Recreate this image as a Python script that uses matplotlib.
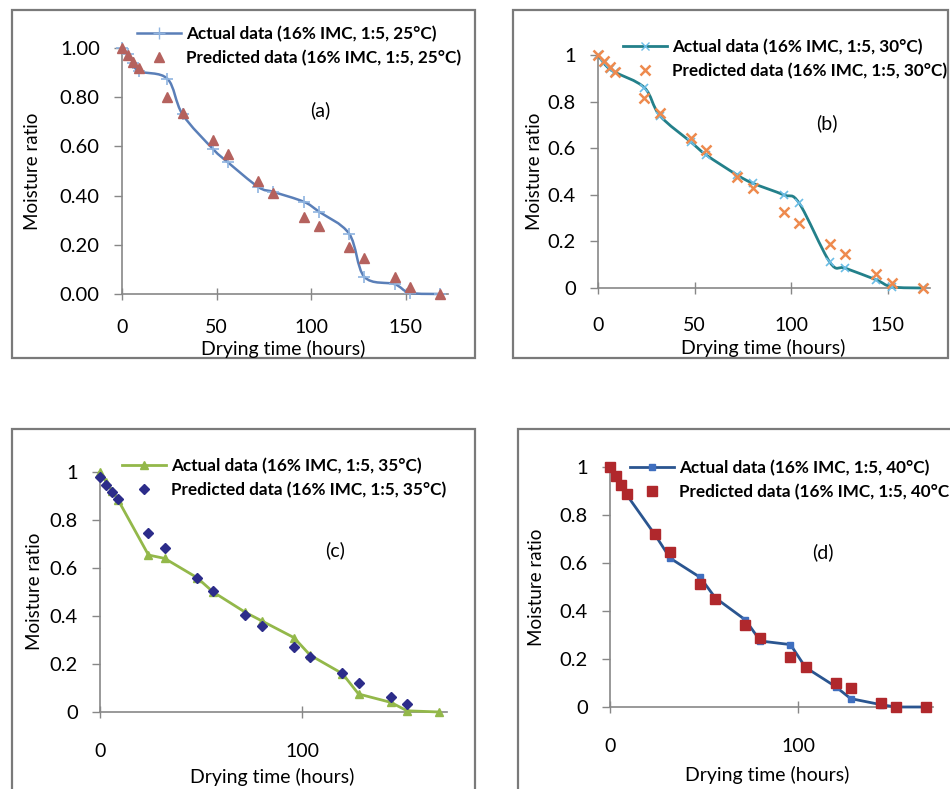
import numpy as np
import matplotlib
matplotlib.use("Agg")
import matplotlib.pyplot as plt
from matplotlib.path import Path
from matplotlib.patches import PathPatch, Rectangle
from matplotlib.lines import Line2D

plt.rcParams['font.family'] = ['Lato', 'DejaVu Sans']

# Drying time (hours)
hours = [0, 3, 6, 9, 24, 32, 48, 56, 72, 80, 96, 104, 120, 128, 144, 152, 168]

# Moisture ratio per drying temperature
actual_25 = [1.00, 0.975, 0.94, 0.905, 0.875, 0.73, 0.59, 0.535, 0.435, 0.415, 0.375, 0.335, 0.245, 0.07, 0.04, 0.005, 0.0]
pred_25 = [1.00, 0.97, 0.945, 0.92, 0.80, 0.735, 0.625, 0.568, 0.46, 0.41, 0.315, 0.275, 0.19, 0.145, 0.068, 0.03, 0.0]

actual_30 = [1.00, 0.965, 0.94, 0.925, 0.86, 0.74, 0.627, 0.571, 0.485, 0.45, 0.40, 0.365, 0.11, 0.085, 0.035, 0.005, 0.0]
pred_30 = [1.00, 0.975, 0.95, 0.925, 0.815, 0.75, 0.643, 0.592, 0.477, 0.43, 0.327, 0.28, 0.19, 0.145, 0.06, 0.02, 0.0]

actual_35 = [1.00, 0.96, 0.92, 0.883, 0.654, 0.64, 0.56, 0.50, 0.415, 0.38, 0.31, 0.237, 0.16, 0.075, 0.04, 0.005, 0.0]
pred_35 = [0.98, 0.946, 0.917, 0.888, 0.745, 0.683, 0.558, 0.505, 0.404, 0.358, 0.27, 0.23, 0.162, 0.12, 0.062, 0.033, np.nan]

actual_40 = [1.00, 0.96, 0.92, 0.883, 0.717, 0.62, 0.54, 0.455, 0.363, 0.275, 0.26, 0.165, 0.085, 0.035, 0.01, 0.0, 0.0]
pred_40 = [1.00, 0.963, 0.925, 0.887, 0.72, 0.645, 0.513, 0.45, 0.34, 0.288, 0.21, 0.167, 0.10, 0.08, 0.017, 0.0, 0.0]

W, H = 950, 789
fig = plt.figure(figsize=(W / 100, H / 100), dpi=100)
fig.patch.set_facecolor('white')

GRAY = '#878787'


def fx(px):
    return px / W


def fy(py):
    return 1 - py / H


def smooth_path(x, y):
    """Cubic Bezier path through the points (Catmull-Rom style smoothing)."""
    x = np.asarray(x, float)
    y = np.asarray(y, float)
    verts = [(x[0], y[0])]
    codes = [Path.MOVETO]
    n = len(x)
    for i in range(n - 1):
        p0 = np.array([x[max(i - 1, 0)], y[max(i - 1, 0)]])
        p1 = np.array([x[i], y[i]])
        p2 = np.array([x[i + 1], y[i + 1]])
        p3 = np.array([x[min(i + 2, n - 1)], y[min(i + 2, n - 1)]])
        c1 = p1 + (p2 - p0) / 6.0
        c2 = p2 - (p3 - p1) / 6.0
        verts += [tuple(c1), tuple(c2), tuple(p2)]
        codes += [Path.CURVE4] * 3
    return Path(verts, codes)


def make_axes(x0, pxh, y0, y1, xpad, xmax=172):
    ax = fig.add_axes([fx(x0), fy(y0), pxh * xmax / W, (y0 - y1) / H])
    ax.set_xlim(0, xmax)
    ax.set_ylim(0, 1.0)
    for s in ('top', 'right'):
        ax.spines[s].set_visible(False)
    for s in ('left', 'bottom'):
        ax.spines[s].set_color(GRAY)
        ax.spines[s].set_linewidth(1.2)
    ax.tick_params(axis='y', direction='out', length=6, width=1.0, color=GRAY,
                   labelsize=14.5, pad=10)
    ax.tick_params(axis='x', direction='inout', length=8, width=1.0, color=GRAY,
                   labelsize=14, pad=xpad)
    ax.set_yticks(np.arange(0, 1.01, 0.2))
    ax.patch.set_alpha(0)
    return ax


def frame(x0, y0, x1, y1):
    fig.patches.append(Rectangle((fx(x0), fy(y1)), (x1 - x0) / W, (y1 - y0) / H,
                                 transform=fig.transFigure, fill=False,
                                 edgecolor='#7a7a7a', linewidth=1.6, zorder=0))


def labels(tag, xlab_pos, ylab_pos, tag_pos):
    fig.text(fx(xlab_pos[0]), fy(xlab_pos[1]), 'Drying time (hours)', fontsize=14,
             ha='center', va='center')
    fig.text(fx(ylab_pos[0]), fy(ylab_pos[1]), 'Moisture ratio', fontsize=13.5,
             rotation=90, ha='center', va='center')
    fig.text(fx(tag_pos[0]), fy(tag_pos[1]), tag, fontsize=14, ha='center', va='center')


def add_legend(ax, handles, texts, x_left, y_mid):
    ax.legend(handles, texts, loc='center left',
              bbox_to_anchor=(fx(x_left), fy(y_mid)), bbox_transform=fig.transFigure,
              frameon=False, borderpad=0, borderaxespad=0, handlelength=2.6,
              handletextpad=0.25, labelspacing=0.45,
              prop={'weight': 'bold', 'size': 12.3})


# Outer frames
frame(12, 10, 475, 358)
frame(513, 10, 948, 358)
frame(12, 429, 475, 800)
frame(518, 429, 960, 800)

# ---- (a) 25 C
ax = make_axes(122, 1.893, 294, 48, 14)
ax.set_xticks([0, 50, 100, 150])
ax.yaxis.set_major_formatter(matplotlib.ticker.FormatStrFormatter('%.2f'))
c_line, c_mark, c_pred = '#5a7fb8', '#8fb4e0', '#b5625e'
ax.add_patch(PathPatch(smooth_path(hours, actual_25), fill=False, edgecolor=c_line,
                       linewidth=1.8, zorder=3, clip_on=False))
ax.plot(hours, actual_25, linestyle='none', marker='+', ms=8, mew=1.2, color=c_mark,
        zorder=4, clip_on=False)
ax.plot(hours, pred_25, linestyle='none', marker='^', ms=7, color=c_pred, zorder=5,
        clip_on=False)
add_legend(ax,
           [Line2D([], [], color=c_line, lw=1.8, marker='+', ms=8, mec=c_mark),
            Line2D([], [], ls='none', marker='^', ms=7, color=c_pred)],
           ['Actual data (16% IMC, 1:5, 25°C)', 'Predicted data (16% IMC, 1:5, 25°C)'],
           137, 46)
labels('(a)', (283, 349), (33, 171), (320, 110))

# ---- (b) 30 C
ax = make_axes(598, 1.933, 288, 55, 17)
ax.set_xticks([0, 50, 100, 150])
ax.set_yticklabels(['0', '0.2', '0.4', '0.6', '0.8', '1'])
c_line, c_mark, c_pred = '#23808a', '#6cbde6', '#ee8a4e'
ax.add_patch(PathPatch(smooth_path(hours, actual_30), fill=False, edgecolor=c_line,
                       linewidth=2.0, zorder=3, clip_on=False))
ax.plot(hours, actual_30, linestyle='none', marker='x', ms=6, mew=1.2, color=c_mark,
        zorder=4, clip_on=False)
ax.plot(hours, pred_30, linestyle='none', marker='x', ms=7, mew=1.8, color=c_pred,
        zorder=5, clip_on=False)
add_legend(ax,
           [Line2D([], [], color=c_line, lw=2.0, marker='x', ms=6, mec=c_mark),
            Line2D([], [], ls='none', marker='x', ms=7, mew=1.8, color=c_pred)],
           ['Actual data (16% IMC, 1:5, 30°C)', 'Predicted data (16% IMC, 1:5, 30°C)'],
           623, 59)
labels('(b)', (763, 348), (535, 171), (827, 123))

# ---- (c) 35 C
ax = make_axes(100, 2.02, 712, 472, 18)
ax.set_xticks([0, 100])
ax.set_yticklabels(['0', '0.2', '0.4', '0.6', '0.8', '1'])
c_line, c_pred = '#93b84a', '#2c2c8a'
ax.plot(hours, actual_35, color=c_line, lw=2.0, marker='^', ms=6, zorder=3, clip_on=False)
ax.plot(hours, pred_35, linestyle='none', marker='D', ms=5.5, color=c_pred, zorder=5,
        clip_on=False)
add_legend(ax,
           [Line2D([], [], color=c_line, lw=2.0, marker='^', ms=6),
            Line2D([], [], ls='none', marker='D', ms=5.5, color=c_pred)],
           ['Actual data (16% IMC, 1:5, 35°C)', 'Predicted data (16% IMC, 1:5, 35°C)'],
           122, 478)
labels('(c)', (272, 777), (35, 591), (335, 550))

# ---- (d) 40 C
ax = make_axes(610, 1.88, 707, 467, 18)
ax.set_xticks([0, 100])
ax.set_yticklabels(['0', '0.2', '0.4', '0.6', '0.8', '1'])
c_line, c_mark, c_pred = '#2a5590', '#3f6fbf', '#b0282c'
ax.plot(hours, actual_40, color=c_line, lw=2.0, marker='s', ms=5, mfc=c_mark, mec=c_mark,
        zorder=3, clip_on=False)
ax.plot(hours, pred_40, linestyle='none', marker='s', ms=6.5, color=c_pred, zorder=5,
        clip_on=False)
add_legend(ax,
           [Line2D([], [], color=c_line, lw=2.0, marker='s', ms=5, mfc=c_mark, mec=c_mark),
            Line2D([], [], ls='none', marker='s', ms=6.5, color=c_pred)],
           ['Actual data (16% IMC, 1:5, 40°C)', 'Predicted data (16% IMC, 1:5, 40°C'],
           630, 480)
labels('(d)', (767, 775), (537, 587), (823, 552))

fig.savefig('out.png', dpi=100, facecolor='white')
